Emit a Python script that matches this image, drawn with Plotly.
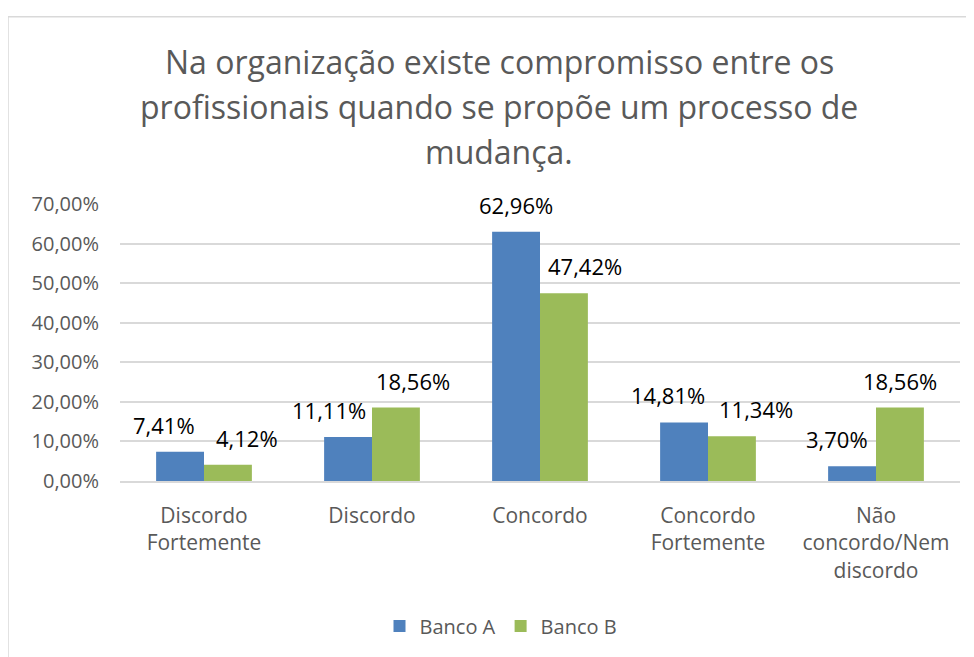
import plotly.graph_objects as go

# ---------------- data ----------------
CATEGORIES = ["Discordo Fortemente", "Discordo", "Concordo",
              "Concordo Fortemente", "Não concordo/Nem discordo"]
TICK_LABELS = ["Discordo<br>Fortemente", "Discordo", "Concordo",
               "Concordo<br>Fortemente", "Não<br>concordo/Nem<br>discordo"]
BANCO_A = [7.41, 11.11, 62.96, 14.81, 3.70]
BANCO_B = [4.12, 18.56, 47.42, 11.34, 18.56]
SERIES_NAMES = ["Banco A", "Banco B"]
TITLE_LINES = ["Na organização existe compromisso entre os",
               "profissionais quando se propõe um processo de",
               "mudança."]
Y_TICKS = [0, 10, 20, 30, 40, 50, 60, 70]

# ---------------- style ----------------
OFF = 8  # page body margin
W, H = 974 - OFF, 657 - OFF
ML, MR, MT, MB = 120 - OFF, 14, 204 - OFF, 172
PW, PH = W - ML - MR, H - MT - MB
COLORS = ["#4F81BD", "#9BBB59"]
FONT = "Open Sans"
GRAY = "#595959"
GRID = "#D9D9D9"
BAR_PX = 48
# horizontal nudges of data labels (px), as placed in the original
NUDGE_A = [-16, -19, 0, -16, -15]
NUDGE_B = [19, 17, 21, 24, 0]


def px_x(px):  # page pixel -> paper
    return (px - OFF - ML) / PW


def px_y(py):
    return (H - MB - (py - OFF)) / PH


def fmt(v):
    return f"{v:.2f}%".replace(".", ",")


fig = go.Figure()
for name, vals, col in zip(SERIES_NAMES, [BANCO_A, BANCO_B], COLORS):
    fig.add_trace(go.Bar(name=name, x=CATEGORIES, y=vals, marker_color=col,
                         marker_line_width=0, hoverinfo="skip"))

ann = []
for vals, side, nudges in [(BANCO_A, -1, NUDGE_A), (BANCO_B, 1, NUDGE_B)]:
    for c, v, n in zip(CATEGORIES, vals, nudges):
        ann.append(dict(x=c, y=v, xref="x", yref="y", text=fmt(v),
                        showarrow=False, yanchor="bottom",
                        xshift=side * BAR_PX / 2 + n, yshift=10,
                        font=dict(family=FONT, size=22, color="#000000")))

for line, cy in zip(TITLE_LINES, [59, 105, 151]):
    ann.append(dict(x=px_x(499), y=px_y(cy), xref="paper", yref="paper",
                    text=line, showarrow=False, xanchor="center",
                    yanchor="middle",
                    font=dict(family=FONT, size=32, color=GRAY)))

fig.update_layout(
    width=W, height=H, autosize=False,
    margin=dict(l=ML, r=MR, t=MT, b=MB),
    paper_bgcolor="white", plot_bgcolor="white",
    separators=",.",
    barmode="group", bargap=0.43, bargroupgap=0,
    font=dict(family=FONT, color=GRAY),
    annotations=ann,
    showlegend=True,
    legend=dict(orientation="h", x=px_x(501), xanchor="center",
                y=px_y(632), yanchor="middle",
                font=dict(family=FONT, size=20, color=GRAY),
                traceorder="normal"),
    shapes=[dict(type="rect", xref="paper", yref="paper",
                 x0=px_x(8), x1=px_x(995), y0=px_y(700), y1=px_y(14),
                 line=dict(color=GRID, width=1.5), layer="below")],
)
fig.update_xaxes(tickvals=CATEGORIES, ticktext=TICK_LABELS,
                 tickfont=dict(family=FONT, size=21, color=GRAY),
                 showline=True, linecolor=GRID, linewidth=1.5,
                 ticks="", ticklabelstandoff=15, fixedrange=True)
fig.update_yaxes(range=[0, 70], tickvals=Y_TICKS,
                 ticktext=[fmt(t) for t in Y_TICKS],
                 showgrid=True, gridcolor=GRID, gridwidth=1.5,
                 zeroline=False, showline=False, ticks="",
                 ticklabelstandoff=20,
                 tickfont=dict(family=FONT, size=20, color=GRAY),
                 fixedrange=True)

fig.write_html("out.html")
